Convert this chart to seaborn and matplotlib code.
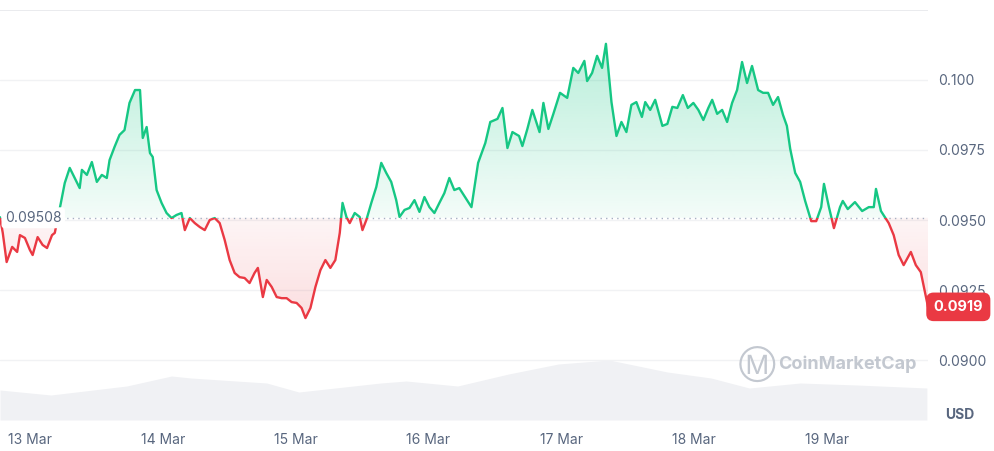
import numpy as np
import pandas as pd
import seaborn as sns
import matplotlib.pyplot as plt
from matplotlib.patches import Rectangle, PathPatch
from matplotlib.path import Path

# hours since 13 Mar 00:00 and price (USD)
hours = [-5.4, -4.9, -4.2, -3.2, -2.3, -1.8, -0.9, 0.0, 0.5, 1.4, 2.3, 3.1, 4.0, 4.5,
         5.6, 6.3, 7.2, 8.1, 9.0, 9.4, 10.3, 11.2, 12.1, 13.0, 13.9, 14.4, 15.3, 16.2,
         17.1, 18.0, 19.0, 19.9, 20.4, 21.1, 21.7, 22.2, 22.9, 23.8, 24.7, 25.6, 26.5,
         27.4, 28.0, 28.9, 29.8, 30.7, 31.6, 32.5, 33.4, 34.3, 35.2, 36.1, 37.0, 37.9,
         38.8, 39.7, 40.6, 41.2, 42.1, 42.8, 43.7, 44.6, 45.5, 46.4, 47.3, 48.2, 49.1,
         49.8, 50.7, 51.6, 52.5, 53.4, 54.3, 55.2, 56.0, 56.5, 57.2, 57.8, 58.7, 59.6,
         60.1, 60.8, 61.7, 62.6, 63.5, 64.4, 65.3, 66.2, 66.8, 67.7, 68.6, 69.5, 70.4,
         71.3, 72.2, 73.1, 74.0, 74.9, 75.8, 76.7, 77.6, 79.8, 81.0, 82.3, 83.2, 84.5,
         85.4, 86.3, 87.2, 88.4, 89.0, 89.9, 90.8, 92.1, 92.8, 93.7, 94.6, 95.8, 97.1,
         98.2, 99.1, 100.2, 100.7, 101.6, 102.5, 103.4, 104.1, 105.1, 106.0, 106.9,
         107.8, 108.7, 109.6, 110.6, 111.2, 112.1, 113.0, 114.3, 115.2, 116.1, 117.0,
         118.0, 118.9, 119.9, 120.8, 121.7, 122.6, 123.3, 124.2, 125.1, 126.0, 126.9,
         127.8, 128.7, 129.6, 130.5, 131.6, 132.5, 133.4, 134.3, 135.2, 136.1, 136.8,
         137.4, 138.3, 139.2, 140.1, 141.2, 142.1, 143.0, 143.5, 144.4, 145.3, 146.4,
         146.9, 147.8, 149.1, 150.4, 151.6, 152.5, 152.9, 153.8, 155.2, 156.1, 157.0,
         157.9, 159.2, 160.1, 161.0, 162.3]
price = [0.09510, 0.09454, 0.09350, 0.09404, 0.09386, 0.09446, 0.09436, 0.09393, 0.09375,
         0.09439, 0.09411, 0.09400, 0.09446, 0.09454, 0.09561, 0.09632, 0.09686, 0.09650,
         0.09614, 0.09679, 0.09661, 0.09707, 0.09636, 0.09661, 0.09650, 0.09714, 0.09761,
         0.09804, 0.09821, 0.09918, 0.09964, 0.09964, 0.09793, 0.09832, 0.09739, 0.09725,
         0.09607, 0.09561, 0.09525, 0.09507, 0.09518, 0.09525, 0.09464, 0.09507, 0.09489,
         0.09475, 0.09464, 0.09500, 0.09507, 0.09489, 0.09429, 0.09357, 0.09311, 0.09296,
         0.09293, 0.09275, 0.09311, 0.09329, 0.09225, 0.09286, 0.09261, 0.09225, 0.09221,
         0.09221, 0.09207, 0.09204, 0.09186, 0.09150, 0.09186, 0.09261, 0.09321, 0.09357,
         0.09329, 0.09357, 0.09454, 0.09561, 0.09511, 0.09489, 0.09525, 0.09511, 0.09464,
         0.09500, 0.09561, 0.09618, 0.09704, 0.09668, 0.09636, 0.09571, 0.09511, 0.09536,
         0.09543, 0.09571, 0.09529, 0.09582, 0.09546, 0.09525, 0.09561, 0.09596, 0.09650,
         0.09607, 0.09614, 0.09546, 0.09704, 0.09775, 0.09850, 0.09861, 0.09900, 0.09757,
         0.09814, 0.09800, 0.09764, 0.09825, 0.09893, 0.09814, 0.09918, 0.09825, 0.09879,
         0.09954, 0.09936, 0.10043, 0.10025, 0.10068, 0.09996, 0.10025, 0.10086, 0.10043,
         0.10129, 0.09921, 0.09800, 0.09850, 0.09814, 0.09911, 0.09921, 0.09868, 0.09921,
         0.09893, 0.09929, 0.09836, 0.09843, 0.09904, 0.09900, 0.09946, 0.09900, 0.09918,
         0.09893, 0.09857, 0.09900, 0.09929, 0.09879, 0.09893, 0.09850, 0.09918, 0.09964,
         0.10064, 0.09989, 0.10050, 0.09964, 0.09954, 0.09954, 0.09911, 0.09939, 0.09875,
         0.09836, 0.09754, 0.09668, 0.09636, 0.09568, 0.09496, 0.09496, 0.09546, 0.09629,
         0.09546, 0.09471, 0.09546, 0.09568, 0.09539, 0.09564, 0.09532, 0.09546, 0.09546,
         0.09611, 0.09532, 0.09489, 0.09446, 0.09375, 0.09339, 0.09386, 0.09339, 0.09314,
         0.09190]

vol_hours = [-5.4, 3.8, 17.5, 25.6, 29.1, 42.8, 48.6, 63.4, 68.0, 77.3, 86.5, 95.5,
             104.7, 115.2, 123.1, 130.0, 139.2, 149.5, 162.1]
volume = [30, 25, 34, 44, 42, 37, 28, 37, 39, 34, 46, 56, 60, 48, 42, 32, 37, 35, 32]  # M USD

baseline = 0.09508
last_price = 0.0919
yticks = [0.0900, 0.0925, 0.0950, 0.0975, 0.1000]
ytick_labels = ["0.0900", "0.0925", "0.0950", "0.0975", "0.100"]
day_ticks = [0, 24, 48, 72, 96, 120, 144]
day_labels = ["13 Mar", "14 Mar", "15 Mar", "16 Mar", "17 Mar", "18 Mar", "19 Mar"]

green = "#16c784"
red = "#ea3943"
grey = "#58667e"

sns.set_style("white")
plt.rcParams['font.family'] = ['Inter', 'DejaVu Sans']

df = pd.DataFrame({"h": hours, "price": price})

fig = plt.figure(figsize=(9.94, 4.51), dpi=100)
ax = fig.add_axes([0, 0.0687, 0.9336, 0.9093])
ymin, ymax = 0.08786, 0.1025
xmin, xmax = hours[0], hours[-1]

# volume underneath
vax = ax.twinx()
vax.fill_between(vol_hours, volume, 0, color="#f0f1f4", lw=0)
vax.set_ylim(0, 410)
vax.axis("off")
ax.set_zorder(vax.get_zorder() + 1)
ax.patch.set_visible(False)

for t in yticks:
    ax.axhline(t, color="#f1f2f4", lw=1, zorder=0)
ax.axhline(ymax, color="#e6e8eb", lw=1.2, zorder=0)


# gradient fills, clipped to the area between price and baseline
def grad_fill(color, above):
    where = (df.price >= baseline) if above else (df.price <= baseline)
    poly = ax.fill_between(df.h, df.price, baseline, where=where, interpolate=True, color="none", lw=0)
    img = np.zeros((256, 1, 4))
    img[:, 0, :3] = plt.matplotlib.colors.to_rgb(color)
    if above:
        img[:, 0, 3] = np.linspace(0.05, 0.35, 256)
        ext = [xmin, xmax, baseline, ymax]
    else:
        img[:, 0, 3] = np.linspace(0.28, 0.05, 256)
        ext = [xmin, xmax, ymin, baseline]
    im = ax.imshow(img, extent=ext, origin="lower", aspect="auto", zorder=1)
    paths = poly.get_paths()
    if paths:
        verts = np.concatenate([p.vertices for p in paths])
        codes = np.concatenate([p.codes if p.codes is not None else
                                np.r_[Path.MOVETO, [Path.LINETO] * (len(p.vertices) - 1)] for p in paths])
        patch = PathPatch(Path(verts, codes), transform=ax.transData, fc="none", ec="none")
        ax.add_patch(patch)
        im.set_clip_path(patch)


grad_fill(green, True)
grad_fill(red, False)

# price line, split colour at baseline
for color, lo, hi in [(green, baseline, ymax), (red, ymin, baseline)]:
    sns.lineplot(data=df, x="h", y="price", ax=ax, color=color, lw=1.7, zorder=3)
    line = ax.lines[-1]
    clip = Rectangle((xmin, lo), xmax - xmin, hi - lo, transform=ax.transData, fc="none", ec="none")
    ax.add_patch(clip)
    line.set_clip_path(clip)

ax.axhline(baseline, color="#a6b0c3", lw=1, ls=(0, (1, 3)), zorder=2)
ax.text(xmin + 0.9, baseline, "0.09508", ha="left", va="center", fontsize=10, color=grey, zorder=5,
        bbox=dict(boxstyle="round,pad=0.25", fc="white", ec="none"))

ax.set_xlim(xmin, xmax)
ax.set_ylim(ymin, ymax)
ax.set_xticks(day_ticks)
ax.set_xticklabels(day_labels)
ax.yaxis.tick_right()
ax.set_yticks(yticks)
ax.set_yticklabels(ytick_labels)
ax.tick_params(axis="both", length=0, labelsize=10, colors=grey)
ax.tick_params(axis="x", pad=9)
ax.tick_params(axis="y", pad=7)
ax.set_xlabel("")
ax.set_ylabel("")
for s in ax.spines.values():
    s.set_visible(False)

ax.text(1.006, last_price, f"{last_price:.4f}", transform=ax.get_yaxis_transform(), ha="left", va="center",
        fontsize=10.5, color="white", fontweight="bold", zorder=6,
        bbox=dict(boxstyle="round,pad=0.5", fc=red, ec="none"))
fig.text(0.951, 0.08, "USD", fontsize=10, color=grey, fontweight="bold", ha="left", va="center")

fig.text(0.783, 0.192, "CoinMarketCap", fontsize=13, color="#c3c8d0", fontweight="bold", ha="left", va="center")
fig.text(0.762, 0.192, "\u24c2", fontsize=19, color="#c3c8d0", ha="center", va="center")

fig.savefig("out.png", dpi=100)
